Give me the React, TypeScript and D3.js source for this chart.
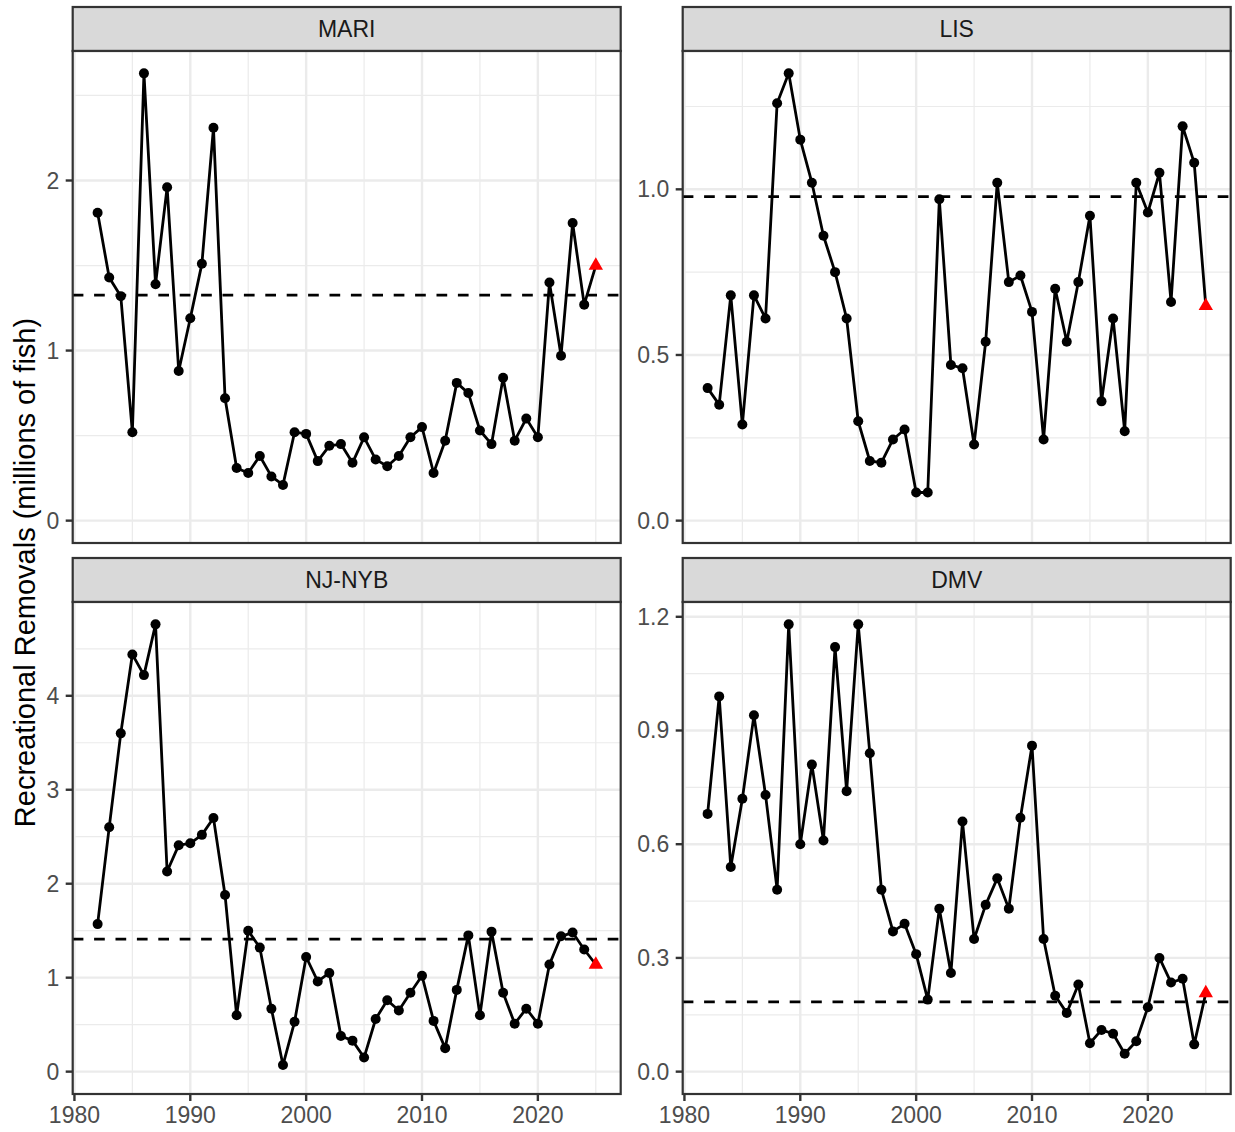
import * as d3 from "d3";

// observed recreational removals, 1982-2024 (millions of fish)
const YEARS = [
  1982, 1983, 1984, 1985, 1986, 1987, 1988, 1989, 1990, 1991, 1992, 1993, 1994, 1995,
  1996, 1997, 1998, 1999, 2000, 2001, 2002, 2003, 2004, 2005, 2006, 2007, 2008, 2009,
  2010, 2011, 2012, 2013, 2014, 2015, 2016, 2017, 2018, 2019, 2020, 2021, 2022, 2023, 2024,
];

const MARI = [
  1.81, 1.43, 1.32, 0.52, 2.63, 1.39, 1.96, 0.88, 1.19, 1.51, 2.31, 0.72, 0.31, 0.28,
  0.38, 0.26, 0.21, 0.52, 0.51, 0.35, 0.44, 0.45, 0.34, 0.49, 0.36, 0.32, 0.38, 0.49,
  0.55, 0.28, 0.47, 0.81, 0.75, 0.53, 0.45, 0.84, 0.47, 0.6, 0.49, 1.4, 0.97, 1.75, 1.27,
];
const LIS = [
  0.4, 0.35, 0.68, 0.29, 0.68, 0.61, 1.26, 1.35, 1.15, 1.02, 0.86, 0.75, 0.61, 0.3,
  0.18, 0.175, 0.245, 0.275, 0.085, 0.085, 0.97, 0.47, 0.46, 0.23, 0.54, 1.02, 0.72, 0.74,
  0.63, 0.245, 0.7, 0.54, 0.72, 0.92, 0.36, 0.61, 0.27, 1.02, 0.93, 1.05, 0.66, 1.19, 1.08,
];
const NJNYB = [
  1.57, 2.6, 3.6, 4.44, 4.22, 4.76, 2.13, 2.41, 2.43, 2.52, 2.7, 1.88, 0.6, 1.5,
  1.32, 0.67, 0.07, 0.53, 1.22, 0.96, 1.05, 0.38, 0.33, 0.15, 0.56, 0.76, 0.65, 0.84,
  1.02, 0.54, 0.25, 0.87, 1.45, 0.6, 1.49, 0.84, 0.51, 0.67, 0.51, 1.14, 1.44, 1.48, 1.3,
];
const DMV = [
  0.68, 0.99, 0.54, 0.72, 0.94, 0.73, 0.48, 1.18, 0.6, 0.81, 0.61, 1.12, 0.74, 1.18,
  0.84, 0.48, 0.37, 0.39, 0.31, 0.19, 0.43, 0.26, 0.66, 0.35, 0.44, 0.51, 0.43, 0.67,
  0.86, 0.35, 0.2, 0.155, 0.23, 0.075, 0.11, 0.1, 0.047, 0.08, 0.17, 0.3, 0.235, 0.245, 0.072,
];

// 2025 projection (red triangle) and reference level (dashed line)
const PROJ_YEAR = 2025;
const PROJ = { MARI: 1.5, LIS: 0.648, "NJ-NYB": 1.14, DMV: 0.207 };
const REF = { MARI: 1.326, LIS: 0.978, "NJ-NYB": 1.41, DMV: 0.184 };

const X_TICKS = [1980, 1990, 2000, 2010, 2020];
const Y_TICKS = {
  MARI: [0, 1, 2],
  LIS: [0, 0.5, 1.0],
  "NJ-NYB": [0, 1, 2, 3, 4],
  DMV: [0, 0.3, 0.6, 0.9, 1.2],
};
const Y_FMT = { MARI: "d", LIS: ".1f", "NJ-NYB": "d", DMV: ".1f" };

const PANELS = [
  { name: "MARI", values: MARI, col: 0, row: 0 },
  { name: "LIS", values: LIS, col: 1, row: 0 },
  { name: "NJ-NYB", values: NJNYB, col: 0, row: 1 },
  { name: "DMV", values: DMV, col: 1, row: 1 },
];

const W = 1235;
const H = 1132;
const PW = 548;
const PH = 492;
const COL_X = [72.7, 682.7];
const ROW_Y = [51, 602];
const STRIP_H = 44;
const FONT = "Liberation Sans, Arial, Helvetica, sans-serif";
const TICK_FS = 23;

const x = d3.scaleLinear().domain([1979.85, 2027.15]).range([0, PW]);

function minorOf(ticks: number[], domain: number[]) {
  const step = ticks[1] - ticks[0];
  const out: number[] = [];
  for (let i = -1; i < ticks.length; i++) {
    const m = ticks[0] + step * (i + 0.5);
    if (m >= domain[0] && m <= domain[1]) out.push(m);
  }
  return out;
}

function Panel({ p }) {
  const x0 = COL_X[p.col];
  const y0 = ROW_Y[p.row];
  const all = [...p.values, PROJ[p.name], REF[p.name], 0];
  const hi = d3.max(all);
  const lo = d3.min(all);
  const pad = (hi - lo) * 0.05;
  const y = d3.scaleLinear().domain([lo - pad, hi + pad]).range([PH, 0]);
  const yt = Y_TICKS[p.name];
  const fmt = d3.format(Y_FMT[p.name]);
  const xMinor = minorOf(X_TICKS, x.domain());
  const yMinor = minorOf(yt, y.domain());

  const pts = YEARS.map((yr, i) => [yr, p.values[i]]);
  const linePts = [...pts, [PROJ_YEAR, PROJ[p.name]]];
  const line = d3.line().x((d) => x(d[0])).y((d) => y(d[1]));

  const py = y(PROJ[p.name]);
  const px = x(PROJ_YEAR);
  const r = 8.3;
  const tri = `M${px},${py - r}L${px + r * 0.866},${py + r / 2}L${px - r * 0.866},${py + r / 2}Z`;

  return (
    <g transform={`translate(${x0},${y0})`}>
      {/* strip */}
      <rect x={0} y={-STRIP_H} width={PW} height={STRIP_H} fill="#D9D9D9" stroke="#333333" strokeWidth={2.2} />
      <text x={PW / 2} y={-STRIP_H / 2} textAnchor="middle" dominantBaseline="central"
        fontSize={TICK_FS} fill="#1A1A1A" fontFamily={FONT}>{p.name}</text>

      <rect x={0} y={0} width={PW} height={PH} fill="white" />
      {/* grid */}
      {xMinor.map((v) => (
        <line key={"xm" + v} x1={x(v)} x2={x(v)} y1={0} y2={PH} stroke="#EBEBEB" strokeWidth={1.2} />
      ))}
      {yMinor.map((v) => (
        <line key={"ym" + v} x1={0} x2={PW} y1={y(v)} y2={y(v)} stroke="#EBEBEB" strokeWidth={1.2} />
      ))}
      {X_TICKS.map((v) => (
        <line key={"xM" + v} x1={x(v)} x2={x(v)} y1={0} y2={PH} stroke="#EBEBEB" strokeWidth={2.4} />
      ))}
      {yt.map((v) => (
        <line key={"yM" + v} x1={0} x2={PW} y1={y(v)} y2={y(v)} stroke="#EBEBEB" strokeWidth={2.4} />
      ))}

      {/* reference level */}
      <line x1={0} x2={PW} y1={y(REF[p.name])} y2={y(REF[p.name])} stroke="black"
        strokeWidth={2.7} strokeDasharray="10.7 10.7" />

      <path d={line(linePts)} fill="none" stroke="black" strokeWidth={2.8} strokeLinejoin="round" />
      {pts.map((d) => (
        <circle key={d[0]} cx={x(d[0])} cy={y(d[1])} r={5} fill="black" />
      ))}
      <path d={tri} fill="#FF0000" />

      <rect x={0} y={0} width={PW} height={PH} fill="none" stroke="#333333" strokeWidth={2.2} />

      {/* y axis */}
      {yt.map((v) => (
        <g key={"yt" + v}>
          <line x1={-7} x2={0} y1={y(v)} y2={y(v)} stroke="#333333" strokeWidth={2.4} />
          <text x={-13.5} y={y(v)} textAnchor="end" dominantBaseline="central" fontSize={TICK_FS}
            fill="#4D4D4D" fontFamily={FONT}>{fmt(v)}</text>
        </g>
      ))}

      {/* x axis on bottom row only */}
      {p.row === 1 &&
        X_TICKS.map((v) => (
          <g key={"xt" + v}>
            <line x1={x(v)} x2={x(v)} y1={PH} y2={PH + 7} stroke="#333333" strokeWidth={2.4} />
            <text x={x(v)} y={PH + 28.5} textAnchor="middle" fontSize={TICK_FS} fill="#4D4D4D"
              fontFamily={FONT}>{v}</text>
          </g>
        ))}
    </g>
  );
}

export default function App() {
  return (
    <svg width={W} height={H} style={{ position: "absolute", left: 0, top: 0, background: "white" }}>
      <rect width={W} height={H} fill="white" />
      {PANELS.map((p) => (
        <Panel key={p.name} p={p} />
      ))}
      <text transform={`translate(25,${(ROW_Y[0] + ROW_Y[1] + PH) / 2}) rotate(-90)`} textAnchor="middle"
        dominantBaseline="central" fontSize={29} fill="black" fontFamily={FONT}>
        Recreational Removals (millions of fish)
      </text>
    </svg>
  );
}
